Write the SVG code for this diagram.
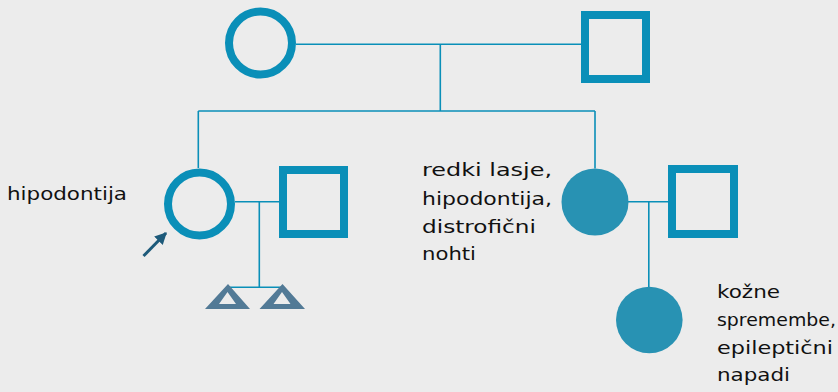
<svg xmlns="http://www.w3.org/2000/svg" width="838" height="392" viewBox="0 0 838 392">
<style>
.bg{fill:#ececec}
.open{fill:none;stroke:#0a8fb8;stroke-width:8}
.filled{fill:#2892b3}
.line{stroke:#0a8fb8;stroke-width:1.6;fill:none}
.tri{fill:#527a96;fill-rule:evenodd}
.lbl{font-family:"DejaVu Sans",sans-serif;font-size:17px;fill:#111}
</style>
<defs>
<marker id="ah" viewBox="0 0 10 10" refX="9" refY="5" markerWidth="4" markerHeight="4" orient="auto" markerUnits="strokeWidth">
<path d="M0,0 L10,5 L0,10 z" fill="#1d5a7a"/>
</marker>
</defs>
<rect class="bg" x="0" y="0" width="838" height="392"/>
<g id="connectors">
<line class="line" x1="296" y1="44.3" x2="581" y2="44.3"/>
<line class="line" x1="440.3" y1="44.3" x2="440.3" y2="111"/>
<line class="line" x1="198.3" y1="111" x2="595" y2="111"/>
<line class="line" x1="198.3" y1="111" x2="198.3" y2="168"/>
<line class="line" x1="595" y1="111" x2="595" y2="168.5"/>
<line class="line" x1="235" y1="201.7" x2="279" y2="201.7"/>
<line class="line" x1="259.3" y1="201.7" x2="259.3" y2="287.3"/>
<line class="line" x1="228" y1="287.3" x2="282" y2="287.3"/>
<line class="line" x1="628" y1="201.7" x2="668" y2="201.7"/>
<line class="line" x1="648.8" y1="201.7" x2="648.8" y2="287"/>
<line x1="143.5" y1="256" x2="166" y2="233" stroke="#1d5a7a" stroke-width="3" marker-end="url(#ah)"/>
</g>
<g id="grandmother"><circle class="open" cx="260.5" cy="43" r="31.5"/></g>
<g id="grandfather"><rect class="open" x="585" y="15" width="61" height="64"/></g>
<g id="proband"><circle class="open" cx="199.5" cy="204" r="31.5"/></g>
<g id="proband-husband"><rect class="open" x="283" y="170" width="61" height="64"/></g>
<g id="twin1"><path class="tri" d="M228,284 L205,309 L250,309 Z M227.5,292 L219,304 L236,304 Z"/></g>
<g id="twin2"><path class="tri" d="M282.5,284 L259.5,309 L305,309 Z M282,292 L273.5,304 L290.5,304 Z"/></g>
<g id="sister"><circle class="filled" cx="595" cy="202" r="33.5"/></g>
<g id="sister-husband"><rect class="open" x="672" y="169" width="62" height="65"/></g>
<g id="niece"><circle class="filled" cx="649.3" cy="320" r="33.3"/></g>
<g id="labels">
<text class="lbl" x="7" y="200" textLength="120" lengthAdjust="spacingAndGlyphs">hipodontija</text>
<text class="lbl" x="422" y="176" textLength="130" lengthAdjust="spacingAndGlyphs">redki lasje,</text>
<text class="lbl" x="422" y="205" textLength="130" lengthAdjust="spacingAndGlyphs">hipodontija,</text>
<text class="lbl" x="422" y="233" textLength="114" lengthAdjust="spacingAndGlyphs">distrofični</text>
<text class="lbl" x="422" y="260" textLength="54" lengthAdjust="spacingAndGlyphs">nohti</text>
<text class="lbl" x="717" y="298" textLength="63" lengthAdjust="spacingAndGlyphs">kožne</text>
<text class="lbl" x="717" y="326" textLength="119" lengthAdjust="spacingAndGlyphs">spremembe,</text>
<text class="lbl" x="717" y="354" textLength="116" lengthAdjust="spacingAndGlyphs">epileptični</text>
<text class="lbl" x="717" y="381" textLength="73" lengthAdjust="spacingAndGlyphs">napadi</text>
</g>
</svg>
